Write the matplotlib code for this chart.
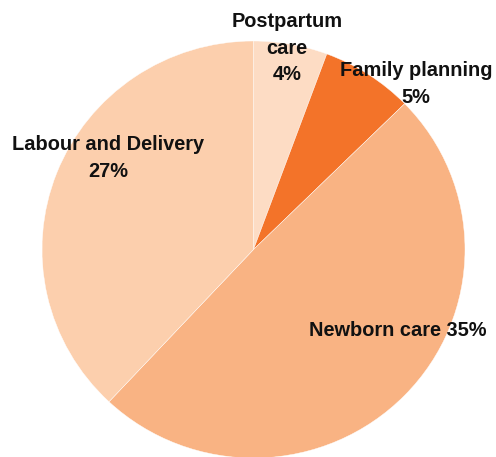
import matplotlib.pyplot as plt

# Slice data (clockwise from 12 o'clock)
categories = ['Postpartum care', 'Family planning', 'Newborn care', 'Labour and Delivery']
values = [4, 5, 35, 27]
colors = ['#FDDCC4', '#F37329', '#F9B383', '#FCCFAD']

# Label text for each slice, as printed on the chart
label_texts = ['Postpartum\ncare\n4%', 'Family planning\n5%',
               'Newborn care 35%', 'Labour and Delivery\n27%']
# label centres in pixels (x, y from top)
label_pos = [(287, 48), (416, 84), (398, 330), (108, 158)]

W, H = 496, 457
fig = plt.figure(figsize=(W / 100, H / 100), dpi=100)
ax = fig.add_axes([42 / W, -1 / H, 423 / W, 417 / H])

ax.pie(values, colors=colors, startangle=90, counterclock=False,
       wedgeprops={'edgecolor': 'white', 'linewidth': 0.3})
ax.set_aspect('auto')
ax.set_xlim(-1, 1)
ax.set_ylim(-1, 1)
ax.axis('off')

for txt, (px, py) in zip(label_texts, label_pos):
    fig.text(px / W, 1 - py / H, txt, ha='center', va='center',
             multialignment='center', fontsize=14.4, fontweight='bold',
             family='Liberation Sans', color='#111111', linespacing=1.5)

fig.savefig('out.png', dpi=100)
